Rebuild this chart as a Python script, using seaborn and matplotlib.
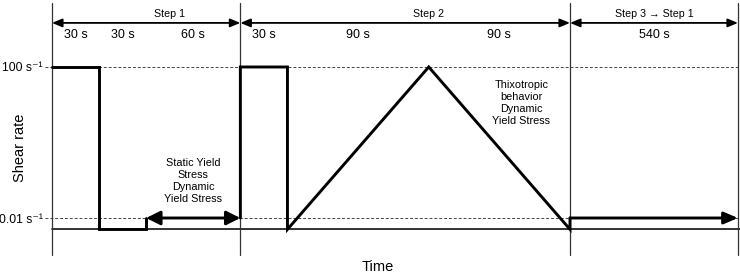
import numpy as np
import pandas as pd
import matplotlib
matplotlib.use("Agg")
import matplotlib.pyplot as plt
import seaborn as sns

# ---------------- data ----------------
step_names = ["Step 1", "Step 2", "Step 3 \u2192 Step 1"]
step_bounds = [0, 120, 330, 870]                 # s
seg_bounds = [0, 30, 60, 120, 150, 240, 330, 870]  # s
seg_labels = ["30 s", "30 s", "60 s", "30 s", "90 s", "90 s", "540 s"]

rate_high = 100.0     # s^-1
rate_low = 0.01       # s^-1
rate_rest = 0.005     # baseline (rest)

profile_a_t = [0, 30, 30, 60, 60]
profile_a_v = [100, 100, 0.005, 0.005, 0.01]
profile_b_t = [120, 120, 150, 150, 240, 330, 330]
profile_b_v = [0.01, 100, 100, 0.005, 100, 0.005, 0.01]

hold_double = (60, 120)     # double-headed hold at 0.01 s^-1
hold_single = (330, 870)    # single-headed hold at 0.01 s^-1

ytick_vals = [0.01, 100]
ytick_labels = ["0.01 s\u207b\u00b9", "100 s\u207b\u00b9"]

note_1 = "Static Yield\nStress\nDynamic\nYield Stress"
note_2 = "Thixotropic\nbehavior\nDynamic\nYield Stress"

# ---------------- style ----------------
sns.set_theme(style="white")
plt.rcParams["font.family"] = ["Liberation Sans", "DejaVu Sans"]

fig = plt.figure(figsize=(7.40, 2.73), dpi=100)
ax = fig.add_axes([52 / 740, 18 / 273, 688 / 740, 252 / 273])

# schematic time axis: last step compressed
K = 107.0 / 540.0
def fwd(t):
    t = np.asarray(t, dtype=float)
    return np.where(t <= 330, t, 330 + (t - 330) * K)
def inv(u):
    u = np.asarray(u, dtype=float)
    return np.where(u <= 330, u, 330 + (u - 330) / K)

ax.set_xscale("function", functions=(fwd, inv))
ax.set_yscale("log")
ax.set_xlim(0, float(inv(438.3)))
ax.set_ylim(10 ** -2.98, 10 ** 3.695)

df = pd.DataFrame({
    "t": profile_a_t + profile_b_t,
    "v": profile_a_v + profile_b_v,
    "seg": ["a"] * len(profile_a_t) + ["b"] * len(profile_b_t),
})
sns.lineplot(data=df, x="t", y="v", units="seg", estimator=None, sort=False,
             color="black", lw=2.1, ax=ax, legend=False)
for l in ax.lines:
    l.set_solid_joinstyle("miter")
    l.set_clip_on(False)

# hold arrows
ax.annotate("", xy=(hold_double[1], rate_low), xytext=(hold_double[0], rate_low),
            arrowprops=dict(arrowstyle="<|-|>,head_length=0.7,head_width=0.35",
                            lw=2.1, color="black", shrinkA=0, shrinkB=0,
                            mutation_scale=12), annotation_clip=False)
ax.annotate("", xy=(hold_single[1], rate_low), xytext=(hold_single[0], rate_low),
            arrowprops=dict(arrowstyle="-|>,head_length=0.7,head_width=0.3",
                            lw=2.1, color="black", shrinkA=0, shrinkB=0,
                            mutation_scale=12), annotation_clip=False)

# reference lines
for v in [rate_high, rate_low]:
    ax.axhline(v, xmin=-0.0102, xmax=1, ls=(0, (3, 2)), lw=0.7, color="#444444",
               clip_on=False, zorder=1)
ax.axhline(rate_rest, xmin=0, xmax=1, color="#222222", lw=1.3, clip_on=False, zorder=1)
for b in step_bounds:
    ax.axvline(b, color="#333333", lw=0.9, clip_on=False, zorder=1)

# step arrows and labels
trans = ax.get_xaxis_transform()
step_label_u = [fwd(75), fwd(240), None]
for i, name in enumerate(step_names):
    t0, t1 = step_bounds[i], step_bounds[i + 1]
    ax.annotate("", xy=(t1, 0.921), xytext=(t0, 0.921), xycoords=trans,
                arrowprops=dict(arrowstyle="<|-|>,head_length=0.6,head_width=0.25",
                                lw=1.3, color="black", shrinkA=0, shrinkB=0,
                                mutation_scale=10), annotation_clip=False)
    u = step_label_u[i] if step_label_u[i] is not None else (fwd(t0) + fwd(t1)) / 2
    fam = ["DejaVu Sans"] if False else None
    ax.text(float(inv(u)), 0.956, name, transform=trans, ha="center", va="center",
            fontsize=7.7, color="black")

for i, lab in enumerate(seg_labels):
    u = (fwd(seg_bounds[i]) + fwd(seg_bounds[i + 1])) / 2
    ax.text(float(inv(u)), 0.873, lab, transform=trans, ha="center", va="center",
            fontsize=9, color="black")

# annotations
ax.text(90, 0.294, note_1, transform=trans, ha="center", va="center",
        fontsize=7.8, linespacing=1.25, color="black")
ax.text(299, 0.603, note_2, transform=trans, ha="center", va="center",
        fontsize=7.8, linespacing=1.25, color="black")

# axes decoration
for s in ax.spines.values():
    s.set_visible(False)
ax.set_xticks([])
ax.minorticks_off()
ax.set_yticks(ytick_vals)
ax.set_yticklabels(ytick_labels)
ax.yaxis.set_minor_locator(matplotlib.ticker.NullLocator())
ax.tick_params(axis="y", length=0, pad=6.5, labelsize=8.8, labelcolor="black")
ax.set_xlabel("Time", fontsize=10.5, color="black")
ax.set_ylabel("Shear rate", fontsize=10.5, color="black")
ax.xaxis.set_label_coords(0.474, -0.048)
ax.xaxis.label.set_va("center")
ax.yaxis.set_label_coords(-0.0465, 0.425)
ax.yaxis.label.set_va("center")
ax.grid(False)

fig.savefig("out.png", dpi=100)
